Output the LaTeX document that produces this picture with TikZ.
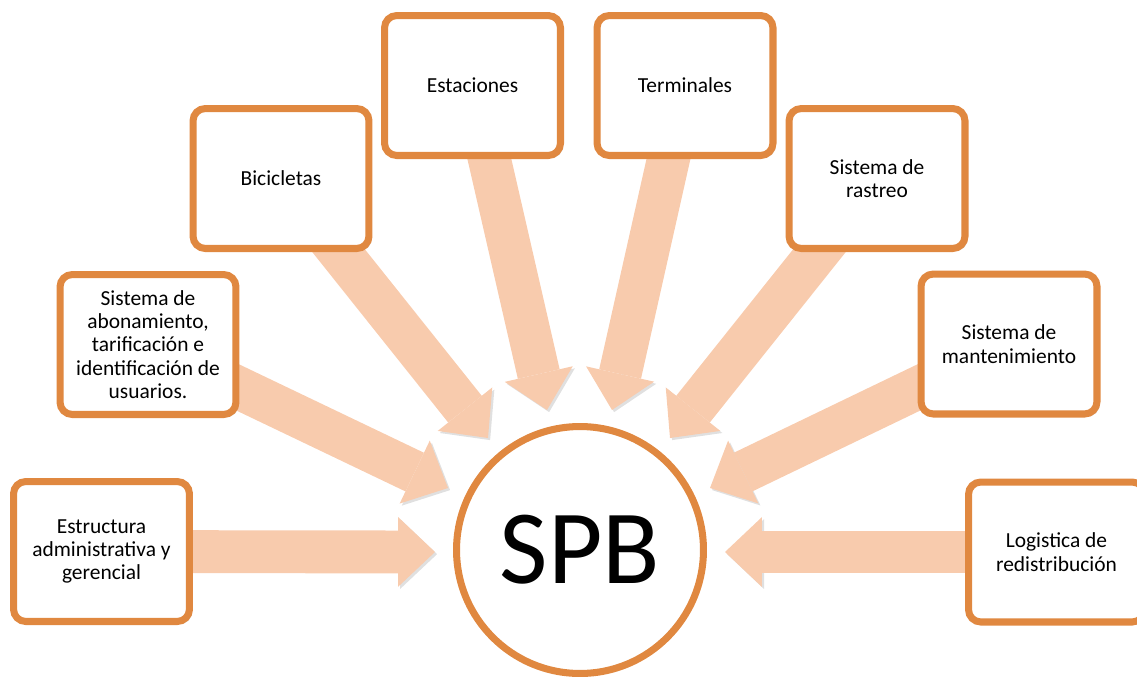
\documentclass[tikz,border=0pt]{standalone}
\usepackage{fontspec}
\setmainfont{Carlito}
\usetikzlibrary{arrows.meta,shadows,backgrounds}
\definecolor{borde}{RGB}{224,136,64}
\definecolor{durazno}{RGB}{248,203,173}

\begin{document}
\begin{tikzpicture}[x=0.02cm,y=-0.02cm,
  caja/.style={draw=borde,line width=4pt,fill=white,rounded corners=7pt,
    minimum width=3.52cm,minimum height=2.8cm,align=center,
    font=\fontsize{12.2}{13.3}\selectfont,
    drop shadow={shadow xshift=1.5pt,shadow yshift=-1.5pt,opacity=.3}},
  flecha/.style={draw=durazno,line width=24.4pt,
    -{Triangle[length=21pt,width=39.7pt,line width=0pt]},
    preaction={draw=black!12,transform canvas={xshift=1.2pt,yshift=-1.2pt}}}]
\useasboundingbox (0,0) rectangle (1137,677);
% cajas
\node[caja] (estr) at (101.5,551.5) {Estructura\\administrativa y\\gerencial};
\node[caja] (abon) at (148,344.5) {Sistema de\\abonamiento,\\tarificación e\\identificación de\\usuarios.};
\node[caja] (bici) at (281,178.5) {Bicicletas};
\node[caja] (esta) at (472.5,85.5) {Estaciones};
\node[caja] (term) at (685,85.5) {Terminales};
\node[caja] (rast) at (877,178.5) {Sistema de\\rastreo};
\node[caja] (mant) at (1009,344) {Sistema de\\mantenimiento};
\node[caja] (logi) at (1056.5,552) {Logistica de\\redistribución};
% centro
\node[draw=borde,line width=4pt,fill=white,circle,inner sep=0pt,minimum size=4.94cm,
  font=\fontsize{60}{66}\selectfont] (spb) at (580,550) {SPB};
% puntas
\coordinate (p1) at (435,552);
\coordinate (p2) at (448,488);
\coordinate (p3) at (488,438);
\coordinate (p4) at (547,410);
\coordinate (p5) at (612,410);
\coordinate (p6) at (670,438);
\coordinate (p7) at (710,488);
\coordinate (p8) at (725,552);
\begin{pgfonlayer}{background}
\draw[flecha] (estr.center) -- (p1);
\draw[flecha] (abon.center) -- (p2);
\draw[flecha] (bici.center) -- (p3);
\draw[flecha] (esta.center) -- (p4);
\draw[flecha] (term.center) -- (p5);
\draw[flecha] (rast.center) -- (p6);
\draw[flecha] (mant.center) -- (p7);
\draw[flecha] (logi.center) -- (p8);
\end{pgfonlayer}
\end{tikzpicture}
\end{document}
